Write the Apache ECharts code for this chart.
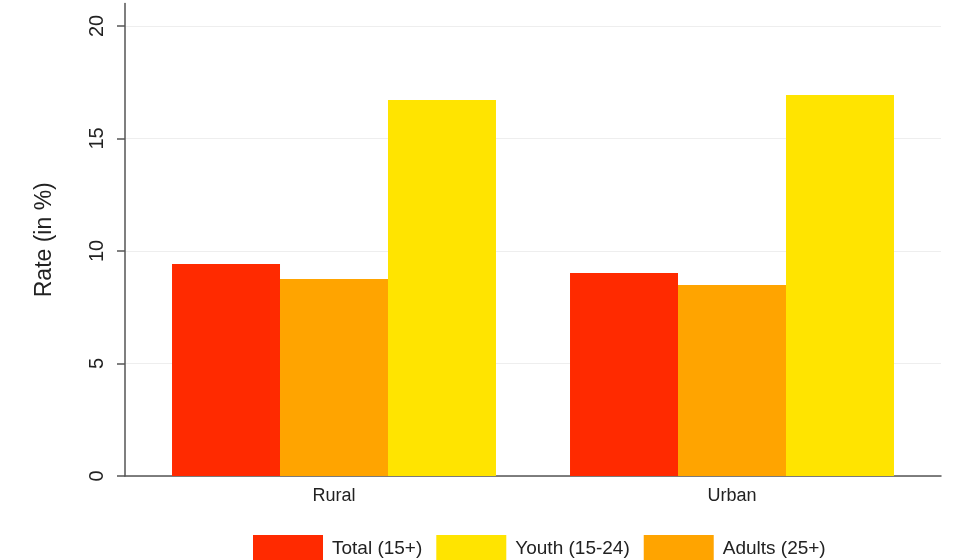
<!DOCTYPE html>
<html>
<head>
<meta charset="utf-8">
<script src="https://cdn.jsdelivr.net/npm/echarts@6/dist/echarts.min.js"></script>
<style>
html,body{margin:0;padding:0;background:#fff;}
#chart{width:953px;height:560px;}
</style>
</head>
<body>
<div id="chart"></div>
<script>
var categories = ["Rural", "Urban"];
var totalValues = [9.42, 9.02];
var adultsValues = [8.76, 8.49];
var youthValues = [16.71, 16.93];
var yTicks = [0, 5, 10, 15, 20];
var legendOrder = ["Total (15+)", "Youth (15-24)", "Adults (25+)"];

var FONT = "Liberation Sans, Arial, Helvetica, sans-serif";
var chart = echarts.init(document.getElementById('chart'), null, {renderer: 'canvas'});
var barCommon = {type: 'bar', xAxisIndex: 1, yAxisIndex: 1, barGap: '0%', barCategoryGap: '18.6%'};
chart.setOption({
  animation: false,
  backgroundColor: '#ffffff',
  textStyle: {fontFamily: FONT},
  legend: {
    data: legendOrder,
    left: 253,
    top: 535,
    padding: 0,
    itemWidth: 70,
    itemHeight: 28,
    itemGap: 14,
    icon: 'rect',
    textStyle: {fontSize: 19, color: '#222', fontFamily: FONT, padding: [0, 0, 0, 4]}
  },
  grid: [
    {left: 125, right: 12, top: 3.5, height: 472.5},
    {left: 135, right: 22, top: 3.5, height: 472.5}
  ],
  xAxis: [
    {
      type: 'category', gridIndex: 0, data: categories,
      axisLine: {lineStyle: {color: '#555', width: 1.5}},
      axisTick: {show: false}, axisLabel: {show: false}
    },
    {
      type: 'category', gridIndex: 1, data: categories,
      axisLine: {show: false},
      axisTick: {show: false},
      axisLabel: {fontSize: 18, color: '#222', margin: 11, fontFamily: FONT}
    }
  ],
  yAxis: [
    {
      type: 'value', gridIndex: 0,
      min: 0, max: 21, interval: 5,
      name: 'Rate (in %)',
      nameLocation: 'middle',
      nameGap: 69,
      nameTextStyle: {fontSize: 23, color: '#222', fontFamily: FONT},
      axisLine: {show: true, lineStyle: {color: '#555', width: 1.5}},
      axisTick: {show: true, length: 8, lineStyle: {color: '#555', width: 1.5}, customValues: yTicks},
      axisLabel: {rotate: 90, fontSize: 20, color: '#222', margin: 18, fontFamily: FONT, customValues: yTicks},
      splitLine: {show: true, lineStyle: {color: '#eeeeee', width: 1}}
    },
    {
      type: 'value', gridIndex: 1,
      min: 0, max: 21, interval: 5,
      axisLine: {show: false}, axisTick: {show: false}, axisLabel: {show: false}, splitLine: {show: false}
    }
  ],
  series: [
    Object.assign({name: 'Total (15+)', data: totalValues, itemStyle: {color: '#ff2a00'}}, barCommon),
    Object.assign({name: 'Adults (25+)', data: adultsValues, itemStyle: {color: '#ffa400'}}, barCommon),
    Object.assign({name: 'Youth (15-24)', data: youthValues, itemStyle: {color: '#ffe400'}}, barCommon)
  ]
});
</script>
</body>
</html>
